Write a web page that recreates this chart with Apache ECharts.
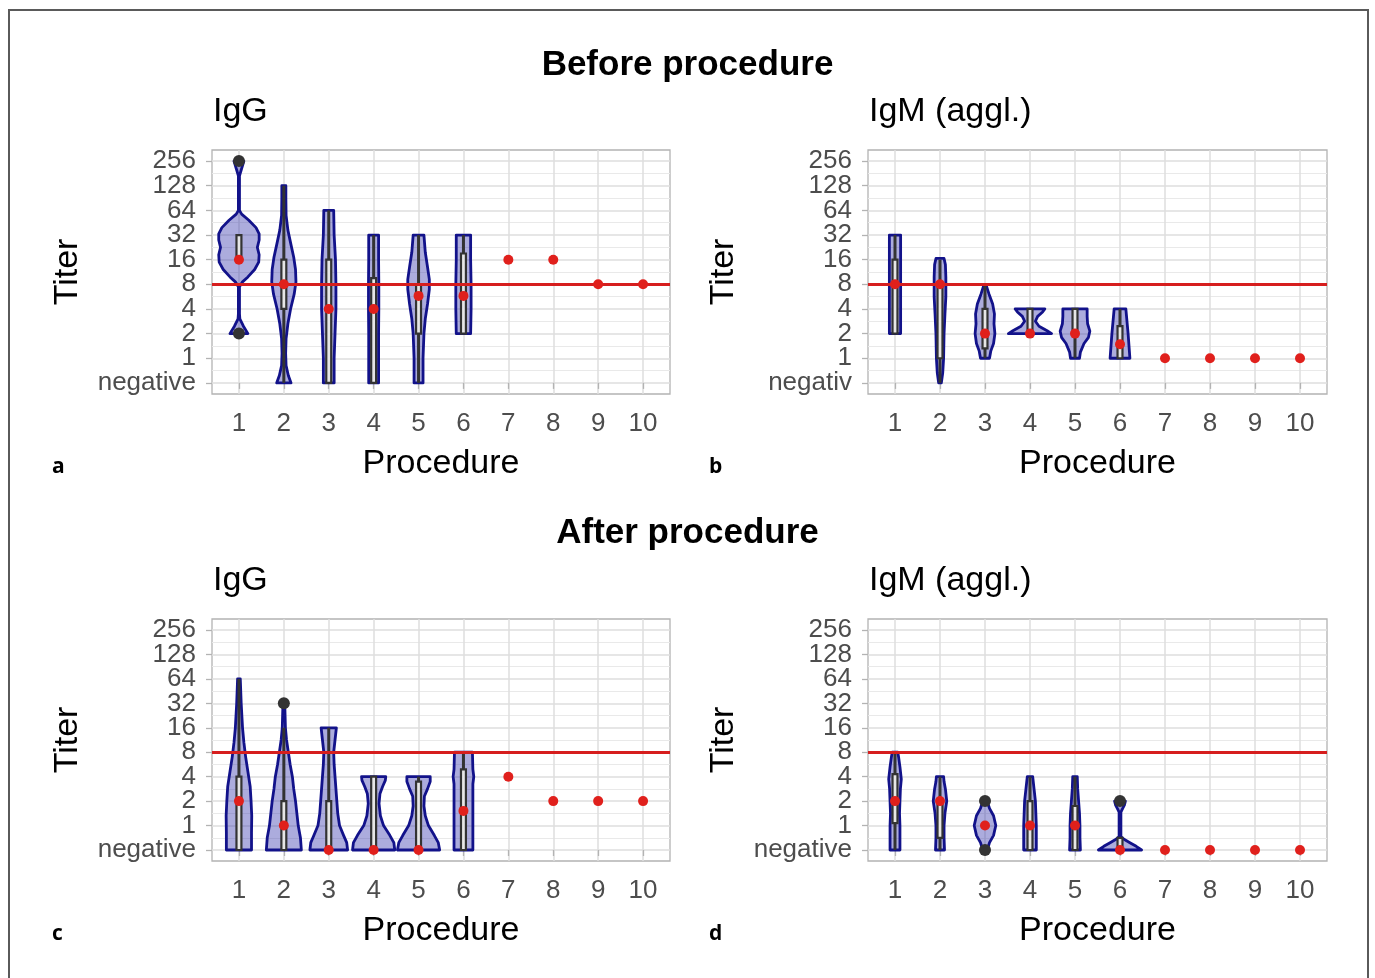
<!DOCTYPE html>
<html>
<head>
<meta charset="utf-8">
<script src="https://cdn.jsdelivr.net/npm/echarts@6/dist/echarts.min.js"></script>
<style>
  html, body { margin: 0; padding: 0; background: #ffffff; }
  #chart { width: 1375px; height: 978px; }
</style>
</head>
<body>
<div id="chart"></div>
<script>
// ---------------- DATA ----------------
// Titer levels are on a log2 scale: 0 = negative, 1 = 1, 2 = 2, 3 = 4, ... 9 = 256
const procedures = [1, 2, 3, 4, 5, 6, 7, 8, 9, 10];
const titerLevels = [0, 1, 2, 3, 4, 5, 6, 7, 8, 9];
const titerLabels = ['negative', '1', '2', '4', '8', '16', '32', '64', '128', '256'];
const titerLabelsB = ['negativ', '1', '2', '4', '8', '16', '32', '64', '128', '256'];
const thresholdLevel = 4; // titer 8

// violin density profiles: [procedure, [[level, half-width in category units], ...]]
const violinBeforeIgG = [
  [1, [[2,0.2],[2.3,0.1],[2.6,0.02],[2.8,0.012],[3.9,0.012],[4.1,0.08],[4.3,0.2],[4.6,0.35],[4.9,0.44],[5.2,0.45],[5.5,0.41],[5.8,0.45],[6.05,0.45],[6.3,0.38],[6.6,0.22],[6.85,0.06],[7.0,0.012],[8.4,0.012],[8.7,0.06],[9,0.11]]],
  [2, [[0,0.16],[0.3,0.1],[0.7,0.05],[1.2,0.04],[1.8,0.05],[2.4,0.09],[3,0.15],[3.6,0.23],[4.1,0.27],[4.6,0.26],[5.1,0.22],[5.6,0.16],[6.2,0.09],[6.8,0.05],[7.5,0.045],[8,0.045]]],
  [3, [[0,0.12],[1,0.12],[2,0.14],[3,0.16],[4,0.16],[5,0.15],[6,0.12],[7,0.11]]],
  [4, [[0,0.11],[1,0.11],[2,0.11],[3,0.115],[4,0.115],[5,0.11],[6,0.11]]],
  [5, [[0,0.1],[1,0.1],[2,0.12],[2.6,0.15],[3.2,0.2],[3.8,0.24],[4.2,0.24],[4.7,0.2],[5.3,0.15],[6,0.12]]],
  [6, [[2,0.16],[3,0.17],[4,0.17],[5,0.16],[6,0.16]]]
];
// boxplots: [procedure, lower whisker, q1, q3, upper whisker]
const boxBeforeIgG = [[1,5,5,6,6],[2,0,3,5,8],[3,0,0,5,7],[4,0,0,4.25,6],[5,0,2,4,6],[6,2,2,5.25,6]];
const outlierBeforeIgG = [[1,2],[1,9]];
const meanBeforeIgG = [[1,5],[2,4],[3,3],[4,3],[5,3.53],[6,3.53],[7,5],[8,5],[9,4],[10,4]];

const violinBeforeIgM = [
  [1, [[2,0.125],[3,0.125],[4,0.125],[5,0.125],[6,0.125]]],
  [2, [[0,0.03],[0.4,0.06],[1,0.08],[2,0.09],[2.8,0.11],[3.5,0.13],[4.3,0.13],[4.8,0.12],[5.05,0.09]]],
  [3, [[1,0.1],[1.3,0.13],[1.6,0.19],[2,0.22],[2.4,0.2],[2.8,0.21],[3.2,0.17],[3.6,0.09],[4,0.02]]],
  [4, [[2,0.48],[2.12,0.38],[2.3,0.2],[2.5,0.12],[2.7,0.17],[2.88,0.28],[3,0.33]]],
  [5, [[1,0.1],[1.25,0.12],[1.6,0.2],[1.85,0.3],[2.1,0.33],[2.4,0.28],[2.7,0.27],[3,0.27]]],
  [6, [[1,0.22],[2,0.18],[3,0.13]]]
];
const boxBeforeIgM = [[1,2,2,5,6],[2,0,1,4,5],[3,1,1.4,3,4],[4,2,2,3,3],[5,1,2,3,3],[6,1,1,2.3,3]];
const outlierBeforeIgM = [];
const meanBeforeIgM = [[1,4],[2,4],[3,2],[4,2],[5,2],[6,1.57],[7,1],[8,1],[9,1],[10,1]];

const violinAfterIgG = [
  [1, [[0,0.28],[0.7,0.28],[1.4,0.285],[2,0.27],[2.6,0.25],[3.2,0.2],[3.8,0.15],[4.4,0.11],[5,0.08],[6,0.05],[7,0.03]]],
  [2, [[0,0.39],[0.5,0.37],[1,0.32],[1.5,0.29],[2,0.26],[2.5,0.22],[3,0.19],[3.5,0.14],[4,0.1],[4.5,0.06],[5,0.035],[6,0.02]]],
  [3, [[0,0.42],[0.3,0.4],[0.6,0.33],[1,0.24],[1.5,0.2],[2,0.18],[2.5,0.16],[3,0.14],[3.5,0.12],[4,0.11],[4.5,0.14],[5,0.17]]],
  [4, [[0,0.47],[0.3,0.45],[0.6,0.36],[1,0.22],[1.4,0.15],[1.9,0.12],[2.3,0.14],[2.6,0.2],[2.85,0.26],[3,0.27]]],
  [5, [[0,0.47],[0.3,0.44],[0.6,0.35],[1,0.22],[1.4,0.15],[1.8,0.12],[2.2,0.13],[2.5,0.2],[2.8,0.26],[3,0.26]]],
  [6, [[0,0.21],[1,0.21],[2,0.21],[2.7,0.21],[3,0.23],[3.3,0.21],[4,0.2]]]
];
const boxAfterIgG = [[1,0,0,3,7],[2,0,0,2,5],[3,0,0,2,5],[4,0,0,3,3],[5,0,0,2.8,3],[6,0,0,3.3,4]];
const outlierAfterIgG = [[2,6]];
const meanAfterIgG = [[1,2],[2,1],[3,0],[4,0],[5,0],[6,1.6],[7,3],[8,2],[9,2],[10,2]];

const violinAfterIgM = [
  [1, [[0,0.11],[0.5,0.11],[1,0.11],[1.5,0.1],[2,0.11],[2.5,0.12],[2.9,0.14],[3.4,0.11],[3.8,0.08],[4,0.06]]],
  [2, [[0,0.1],[0.5,0.09],[1,0.09],[1.5,0.11],[2,0.15],[2.5,0.12],[2.8,0.09],[3,0.08]]],
  [3, [[0,0.05],[0.3,0.1],[0.6,0.19],[1,0.24],[1.4,0.19],[1.7,0.1],[2,0.05]]],
  [4, [[0,0.14],[0.5,0.14],[1,0.14],[1.5,0.13],[2,0.12],[2.5,0.09],[3,0.06]]],
  [5, [[0,0.12],[0.5,0.11],[1,0.11],[1.5,0.1],[2,0.08],[2.5,0.06],[3,0.05]]],
  [6, [[0,0.48],[0.15,0.36],[0.3,0.22],[0.45,0.08],[0.55,0.02],[1.55,0.02],[1.7,0.06],[1.85,0.1],[2,0.12]]]
];
const boxAfterIgM = [[1,0,1.1,3.1,4],[2,0,0.5,2,3],[3,1,1,1,1],[4,0,0,2,3],[5,0,0,1.8,3],[6,0,0,0.5,0.5]];
const outlierAfterIgM = [[3,0],[3,2],[6,2]];
const meanAfterIgM = [[1,2],[2,2],[3,1],[4,1],[5,1],[6,0],[7,0],[8,0],[9,0],[10,0]];

// ---------------- LAYOUT / STYLE ----------------
const FONT = "'Liberation Sans', Arial, sans-serif";
const panels = [
  { grid: { left: 212, top: 150, width: 458, height: 244 }, violins: violinBeforeIgG, boxes: boxBeforeIgG, outliers: outlierBeforeIgG, means: meanBeforeIgG, labels: titerLabels },
  { grid: { left: 868, top: 150, width: 459, height: 244 }, violins: violinBeforeIgM, boxes: boxBeforeIgM, outliers: outlierBeforeIgM, means: meanBeforeIgM, labels: titerLabelsB },
  { grid: { left: 212, top: 619, width: 458, height: 242 }, violins: violinAfterIgG, boxes: boxAfterIgG, outliers: outlierAfterIgG, means: meanAfterIgG, labels: titerLabels },
  { grid: { left: 868, top: 619, width: 459, height: 242 }, violins: violinAfterIgM, boxes: boxAfterIgM, outliers: outlierAfterIgM, means: meanAfterIgM, labels: titerLabels }
];
const minorLevels = titerLevels.slice(0, -1).map(v => v + 0.5);
const evenLevels = titerLevels.filter(v => v % 2 === 0);
const oddLevels = titerLevels.filter(v => v % 2 === 1);

const grids = [], xAxes = [], yAxes = [], series = [];
function majorY(i, p, values, withName) {
  return {
    gridIndex: i, type: 'value', min: -0.45, max: 9.45, position: 'left', offset: 0,
    name: withName ? 'Titer' : '', nameLocation: 'middle', nameGap: 127, nameRotate: 90,
    nameTextStyle: { fontSize: 34, color: '#000', fontFamily: FONT },
    axisLine: { show: false },
    axisTick: { show: true, length: 6, lineStyle: { color: '#b3b3b3', width: 1.3 }, customValues: values },
    axisLabel: { customValues: values, fontSize: 26, color: '#4d4d4d', margin: 16, fontFamily: FONT,
      showMinLabel: true, showMaxLabel: true, hideOverlap: false, formatter: v => p.labels[Math.round(v)] },
    splitLine: { show: true, lineStyle: { color: '#dedede', width: 1.5 } }
  };
}
panels.forEach((p, i) => {
  grids.push(Object.assign({ show: true, borderColor: '#b3b3b3', borderWidth: 1.3, backgroundColor: 'transparent', containLabel: false }, p.grid));
  xAxes.push({
    gridIndex: i, type: 'value', min: 0.4, max: 10.6,
    name: 'Procedure', nameLocation: 'middle', nameGap: 53,
    nameTextStyle: { fontSize: 34, color: '#000', fontFamily: FONT },
    axisLine: { show: false },
    axisTick: { show: true, length: 6, lineStyle: { color: '#b3b3b3', width: 1.3 }, customValues: procedures },
    axisLabel: { customValues: procedures, fontSize: 26, color: '#4d4d4d', margin: 17, fontFamily: FONT,
      showMinLabel: true, showMaxLabel: true, hideOverlap: false, formatter: v => String(v) },
    splitLine: { show: true, lineStyle: { color: '#dedede', width: 1.5 } }
  });
  yAxes.push(majorY(i, p, evenLevels, true));
});
// odd-level labels on a second left axis (avoids automatic overlap hiding)
panels.forEach((p, i) => { yAxes.push(majorY(i, p, oddLevels, false)); });
// minor grid lines
panels.forEach((p, i) => {
  yAxes.push({
    gridIndex: i, type: 'value', min: -0.45, max: 9.45, position: 'right',
    axisLine: { show: false },
    axisTick: { show: false, customValues: minorLevels },
    axisLabel: { show: false, customValues: minorLevels },
    splitLine: { show: true, lineStyle: { color: '#e9e9e9', width: 1 } }
  });
});

panels.forEach((p, i) => {
  // violins
  series.push({
    type: 'custom', xAxisIndex: i, yAxisIndex: i, z: 2,
    data: p.violins.map(v => [v[0], v[1][0][0], v[1][v[1].length - 1][0]]),
    encode: { x: 0, y: [1, 2] },
    renderItem: (params, api) => {
      const v = p.violins[params.dataIndex];
      const x = v[0], prof = v[1];
      const pts = [];
      prof.forEach(q => pts.push(api.coord([x + q[1], q[0]])));
      for (let k = prof.length - 1; k >= 0; k--) pts.push(api.coord([x - prof[k][1], prof[k][0]]));
      return {
        type: 'polygon', shape: { points: pts },
        style: { fill: 'rgba(48,48,170,0.40)', stroke: '#12128a', lineWidth: 2.8, lineJoin: 'round' }
      };
    }
  });
  // boxplots + threshold line
  series.push({
    type: 'custom', xAxisIndex: i, yAxisIndex: i, z: 3,
    data: p.boxes,
    encode: { x: 0, y: [1, 4] },
    renderItem: (params, api) => {
      const x = api.value(0);
      const lo = api.coord([x, api.value(1)]);
      const q1 = api.coord([x, api.value(2)]);
      const q3 = api.coord([x, api.value(3)]);
      const hi = api.coord([x, api.value(4)]);
      const hw = api.size([0.055, 0])[0];
      return {
        type: 'group', children: [
          { type: 'line', shape: { x1: lo[0], y1: lo[1], x2: hi[0], y2: hi[1] }, style: { stroke: '#333333', lineWidth: 3 } },
          { type: 'rect', shape: { x: q1[0] - hw, y: q3[1], width: 2 * hw, height: Math.max(q1[1] - q3[1], 0.5) }, style: { fill: '#e6e6e6', stroke: '#333333', lineWidth: 2.2 } }
        ]
      };
    },
    markLine: {
      silent: true, symbol: 'none', z: 5, animation: false,
      label: { show: false },
      lineStyle: { color: '#d61e1e', width: 3, type: 'solid' },
      data: [{ yAxis: thresholdLevel }]
    }
  });
  // outliers
  series.push({
    type: 'scatter', xAxisIndex: i, yAxisIndex: i, z: 4,
    data: p.outliers, symbolSize: 12,
    itemStyle: { color: '#333333', opacity: 1 }
  });
  // means
  series.push({
    type: 'scatter', xAxisIndex: i, yAxisIndex: i, z: 10,
    data: p.means, symbolSize: 10,
    itemStyle: { color: '#e0201c', opacity: 1 }
  });
});

const titleBase = { padding: 0 };
const titles = [
  { text: 'Before procedure', left: 'center', top: 48, textStyle: { fontSize: 35, fontWeight: 'bold', color: '#000', fontFamily: FONT } },
  { text: 'After procedure', left: 'center', top: 516, textStyle: { fontSize: 35, fontWeight: 'bold', color: '#000', fontFamily: FONT } },
  { text: 'IgG', left: 213, top: 95, textStyle: { fontSize: 34, fontWeight: 'normal', color: '#000', fontFamily: FONT } },
  { text: 'IgM (aggl.)', left: 869, top: 95, textStyle: { fontSize: 34, fontWeight: 'normal', color: '#000', fontFamily: FONT } },
  { text: 'IgG', left: 213, top: 564, textStyle: { fontSize: 34, fontWeight: 'normal', color: '#000', fontFamily: FONT } },
  { text: 'IgM (aggl.)', left: 869, top: 564, textStyle: { fontSize: 34, fontWeight: 'normal', color: '#000', fontFamily: FONT } },
  { text: 'a', left: 52, top: 457, textStyle: { fontSize: 21, fontWeight: 'bold', color: '#000', fontFamily: "'Open Sans', sans-serif" } },
  { text: 'b', left: 709, top: 457, textStyle: { fontSize: 21, fontWeight: 'bold', color: '#000', fontFamily: "'Open Sans', sans-serif" } },
  { text: 'c', left: 52, top: 924, textStyle: { fontSize: 21, fontWeight: 'bold', color: '#000', fontFamily: "'Open Sans', sans-serif" } },
  { text: 'd', left: 709, top: 924, textStyle: { fontSize: 21, fontWeight: 'bold', color: '#000', fontFamily: "'Open Sans', sans-serif" } }
].map(t => Object.assign({}, titleBase, t));

const chart = echarts.init(document.getElementById('chart'), null, { renderer: 'canvas' });
chart.setOption({
  animation: false,
  backgroundColor: '#ffffff',
  textStyle: { fontFamily: FONT },
  title: titles,
  grid: grids,
  xAxis: xAxes,
  yAxis: yAxes,
  series: series,
  graphic: [
    { type: 'rect', shape: { x: 9, y: 10, width: 1359, height: 990 }, style: { fill: 'none', stroke: '#5a5a5a', lineWidth: 2 }, silent: true, z: 100 }
  ]
});
</script>
</body>
</html>
